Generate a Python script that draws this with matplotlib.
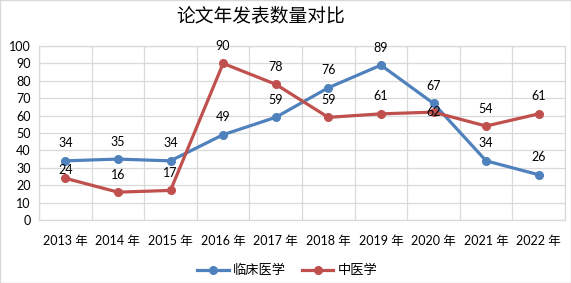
import matplotlib
matplotlib.use('Agg')
import matplotlib.pyplot as plt
from matplotlib.patches import Rectangle

plt.rcParams['font.family'] = ['Lato', 'Noto Sans CJK SC', 'DejaVu Sans']

# 数据
years = ['2013 年', '2014 年', '2015 年', '2016 年', '2017 年',
         '2018 年', '2019 年', '2020 年', '2021 年', '2022 年']
clinical = [34, 35, 34, 49, 59, 76, 89, 67, 34, 26]
tcm = [24, 16, 17, 90, 78, 59, 61, 62, 54, 61]

blue = '#4F81BD'
red = '#C0504D'
grid_c = '#D9D9D9'

fig = plt.figure(figsize=(5.71, 2.83), dpi=100)
ax = fig.add_axes([39 / 571, 1 - 220 / 283, 526 / 571, 174 / 283])

x = list(range(len(years)))
ax.plot(x, clinical, color=blue, lw=2.3, marker='o', ms=5.5, label='临床医学', zorder=3)
ax.plot(x, tcm, color=red, lw=2.3, marker='o', ms=5.5, label='中医学', zorder=3)

# 数据标签
for i, v in enumerate(clinical):
    ax.annotate(str(v), (i, v), xytext=(0, 12.5), textcoords='offset points',
                ha='center', va='center', fontsize=9)
for i, v in enumerate(tcm):
    dy = 12.5
    if i == 0:
        dy = 6
    if i == 7:
        dy = 0
    ax.annotate(str(v), (i, v), xytext=(0, dy), textcoords='offset points',
                ha='center', va='center', fontsize=9)

ax.set_xlim(-0.5, len(years) - 0.5)
ax.set_ylim(0, 100)
ax.set_yticks(range(0, 101, 10))
ax.set_xticks(x)
ax.set_xticklabels(years)
ax.set_xticks([i - 0.5 for i in range(len(years) + 1)], minor=True)
ax.tick_params(axis='both', which='both', length=0, labelsize=9)
ax.tick_params(axis='x', pad=11)
ax.tick_params(axis='y', pad=6)
ax.grid(axis='y', which='major', color=grid_c, lw=0.9)
ax.grid(axis='x', which='minor', color=grid_c, lw=0.9)
for s in ax.spines.values():
    s.set_color(grid_c)
    s.set_linewidth(0.9)

fig.text(261 / 571, 1 - 16 / 283, '论文年发表数量对比', ha='center', va='center',
         fontsize=13.5, fontweight='light', family=['Noto Sans CJK SC'])

fig.legend(loc='center', bbox_to_anchor=(0.503, 0.046), ncol=2, frameon=False,
           fontsize=9.5, handlelength=2.4, columnspacing=1.2, handletextpad=0.3)

fig.patches.append(Rectangle((0, 0), 1, 1, transform=fig.transFigure, fill=False,
                             edgecolor=grid_c, lw=1))

fig.savefig('out.png', dpi=100)
